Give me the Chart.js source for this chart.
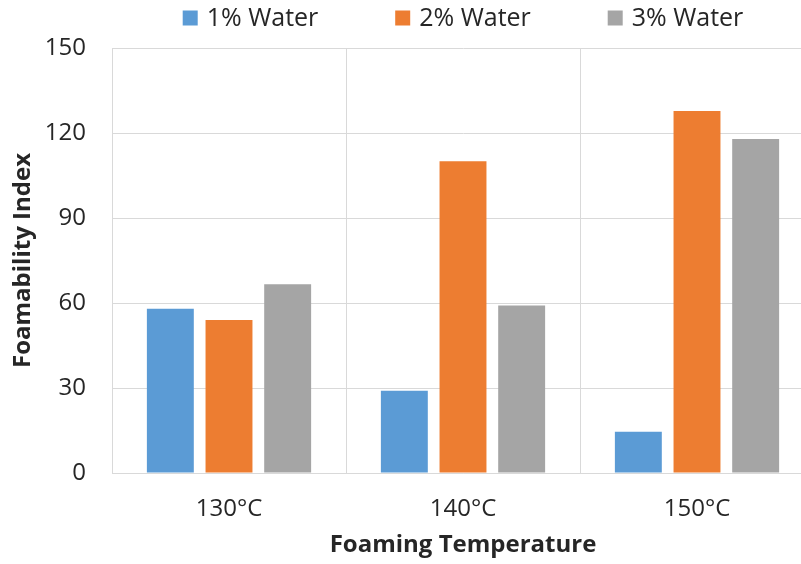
<!DOCTYPE html>
<html>
<head>
<meta charset="utf-8">
<script src="https://cdn.jsdelivr.net/npm/chart.js@4/dist/chart.umd.min.js"></script>
<style>
  html, body { margin: 0; padding: 0; background: #ffffff; overflow: hidden; }
  #wrap { width: 820px; height: 564px; }
</style>
</head>
<body>
<div id="wrap"><canvas id="chart" width="820" height="564"></canvas></div>
<script>
// Foamability index by foaming temperature and water content
const categories = ['130°C', '140°C', '150°C'];
const seriesNames = ['1% Water', '2% Water', '3% Water'];
const water1 = [58, 29, 14.6];
const water2 = [54, 110, 127.8];
const water3 = [66.6, 59.1, 117.9];
const yTicks = [0, 30, 60, 90, 120, 150];

const colors = ['#5B9BD5', '#ED7D31', '#A5A5A5'];
const FONT = "'Open Sans', sans-serif";

// Legend drawn centred over the plot area, items on a fixed pitch
const topLegend = {
  id: 'topLegend',
  afterDraw(chart) {
    const ctx = chart.ctx;
    const area = chart.chartArea;
    ctx.save();
    ctx.font = "25px " + FONT;
    ctx.textBaseline = 'middle';
    ctx.textAlign = 'left';
    const box = 15, gapText = 9, pitch = 212.5;
    const items = chart.data.datasets.map(ds => ({
      label: ds.label, color: ds.backgroundColor,
      w: box + gapText + ctx.measureText(ds.label).width
    }));
    const total = pitch * (items.length - 1) + items[items.length - 1].w;
    const start = (area.left + area.right) / 2 - total / 2;
    const cy = 18;
    items.forEach((it, i) => {
      const x = start + i * pitch;
      ctx.fillStyle = it.color;
      ctx.fillRect(x, cy - box / 2, box, box);
      ctx.fillStyle = '#262626';
      ctx.fillText(it.label, x + box + gapText, cy + 1);
    });
    ctx.restore();
  }
};

new Chart(document.getElementById('chart'), {
  type: 'bar',
  data: {
    labels: categories,
    datasets: [
      { label: seriesNames[0], data: water1, backgroundColor: colors[0] },
      { label: seriesNames[1], data: water2, backgroundColor: colors[1] },
      { label: seriesNames[2], data: water3, backgroundColor: colors[2] }
    ]
  },
  options: {
    responsive: false,
    devicePixelRatio: 1,
    animation: false,
    layout: { padding: { top: 48, right: 6, left: 0, bottom: 0 } },
    datasets: { bar: { categoryPercentage: 0.752, barPercentage: 0.8 } },
    plugins: {
      legend: { display: false },
      tooltip: { enabled: false }
    },
    scales: {
      x: {
        offset: true,
        grid: { offset: true, color: '#d9d9d9', lineWidth: 1, drawTicks: false },
        border: { color: '#d9d9d9' },
        ticks: { color: '#262626', font: { family: FONT, size: 24 }, padding: 22 },
        title: {
          display: true, text: 'Foaming Temperature', color: '#262626',
          font: { family: FONT, size: 24, weight: 'bold' }, padding: { top: 4, bottom: 4 }
        },
        afterFit(scale) { scale.height = 91; }
      },
      y: {
        min: 0, max: 150,
        afterBuildTicks(scale) { scale.ticks = yTicks.map(v => ({ value: v })); },
        grid: { color: '#d9d9d9', lineWidth: 1, drawTicks: false },
        border: { color: '#d9d9d9' },
        ticks: { color: '#262626', font: { family: FONT, size: 24 }, padding: 26 },
        title: {
          display: true, text: 'Foamability Index', color: '#262626',
          font: { family: FONT, size: 24, weight: 'bold' }, padding: { top: 9, bottom: 0 }
        },
        afterFit(scale) { scale.width = 112; }
      }
    }
  },
  plugins: [topLegend]
});
</script>
</body>
</html>
